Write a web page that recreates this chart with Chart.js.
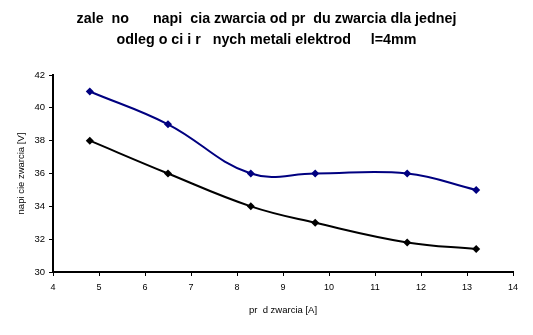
<!DOCTYPE html>
<html>
<head>
<meta charset="utf-8">
<script src="https://cdn.jsdelivr.net/npm/chart.js@4/dist/chart.umd.min.js"></script>
<style>
  html, body { margin: 0; padding: 0; background: #fff; }
  #wrap { width: 533px; height: 335px; }
</style>
</head>
<body>
<div id="wrap"><canvas id="myChart" width="533" height="335"></canvas></div>
<script>
// Current values [A] and short-circuit voltages [V]
const currents = [4.8, 6.5, 8.3, 9.7, 11.7, 13.2];
const voltageBlue = [41, 39, 36, 36, 36, 35];
const voltageBlack = [38, 36, 34, 33, 31.8, 31.4];

const titleLines = [
    'zale  no      napi  cia zwarcia od pr  du zwarcia dla jednej',
    'odleg o ci i r   nych metali elektrod     l=4mm'
];
const xLabel = 'pr  d zwarcia [A]';
const yLabel = 'napi cie zwarcia [V]';

const fontFamily = '"Liberation Sans", Arial, sans-serif';

function toPoints(xs, ys) {
    return xs.map((x, i) => ({ x: x, y: ys[i] }));
}

function makeSeries(values, color) {
    return {
        data: toPoints(currents, values),
        borderColor: color,
        backgroundColor: color,
        borderWidth: 2,
        pointStyle: 'rectRot',
        pointRadius: 2.6,
        pointHoverRadius: 2.6,
        tension: 0.4,
        fill: false
    };
}

const ctx = document.getElementById('myChart').getContext('2d');
const myChart = new Chart(ctx, {
    type: 'line',
    data: {
        datasets: [
            makeSeries(voltageBlue, '#000080'),
            makeSeries(voltageBlack, '#000000')
        ]
    },
    options: {
        responsive: false,
        animation: false,
        // equal side padding keeps the title centred on the canvas
        layout: { padding: { left: 20, right: 20, top: 0, bottom: 0 } },
        plugins: {
            legend: { display: false },
            tooltip: { enabled: false },
            title: {
                display: true,
                text: titleLines,
                color: '#000',
                font: { family: fontFamily, size: 14.3, weight: 'bold', lineHeight: 1.47 },
                padding: { top: 9, bottom: 24 }
            }
        },
        scales: {
            x: {
                type: 'linear',
                min: 4,
                max: 14,
                afterFit: function(scale) { scale.height = 63; },
                ticks: {
                    stepSize: 1,
                    color: '#000',
                    font: { family: fontFamily, size: 9 },
                    padding: 6
                },
                grid: { drawOnChartArea: false, tickLength: 4, color: '#000' },
                border: { color: '#000', width: 2 },
                title: {
                    display: true,
                    text: xLabel,
                    color: '#000',
                    font: { family: fontFamily, size: 9.5 },
                    padding: { top: 0, bottom: 19 }
                }
            },
            y: {
                min: 30,
                max: 42,
                afterFit: function(scale) { scale.width = 33; },
                ticks: {
                    stepSize: 2,
                    color: '#000',
                    font: { family: fontFamily, size: 9.5 },
                    padding: 4
                },
                grid: { drawOnChartArea: false, tickLength: 4, color: '#000' },
                border: { color: '#000', width: 2 },
                title: {
                    display: true,
                    text: yLabel,
                    color: '#000',
                    font: { family: fontFamily, size: 9.5 },
                    padding: { top: -4, bottom: 0 }
                }
            }
        }
    }
});
</script>
</body>
</html>
